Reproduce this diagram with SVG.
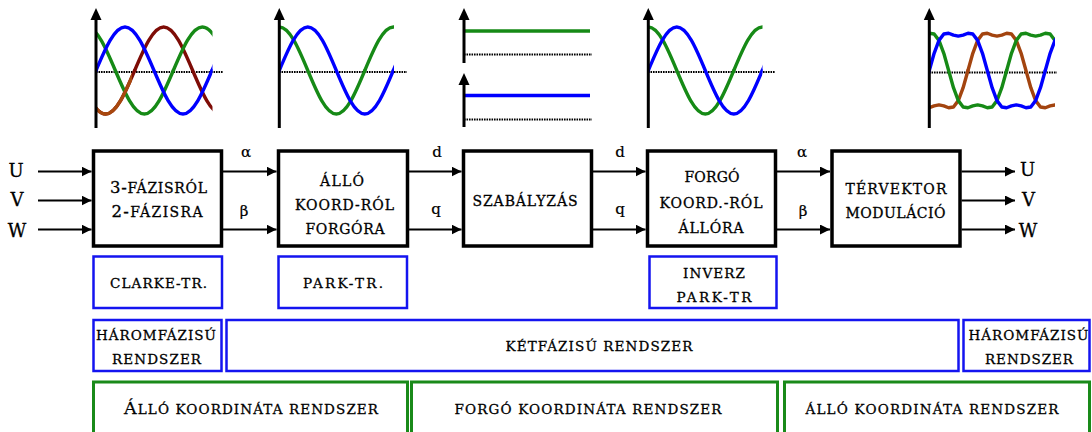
<svg xmlns="http://www.w3.org/2000/svg" width="1092" height="432" viewBox="0 0 1092 432">
<style>
text{font-family:"DejaVu Serif","Liberation Serif",serif;fill:#000;stroke:#000;stroke-width:0.3;text-anchor:middle}
.bt{font-size:14px}
.st{font-size:13.5px}
.gk{font-size:15px;stroke-width:0.2}
.io{font-size:18px}
.blk{fill:#fff;stroke:#000;stroke-width:3.5}
.bl{fill:none;stroke:#1414f0;stroke-width:2.5}
.gr{fill:none;stroke:#198a19;stroke-width:3}
.cn{stroke:#000;stroke-width:2;fill:none}
.ax{stroke:#000;stroke-width:3}
.zl{stroke:#000;stroke-width:2.2;stroke-dasharray:1.6 0.9}
.wv{fill:none;stroke-width:3.4;stroke-linecap:round;stroke-linejoin:round}
</style>
<defs>
<marker id="ah" markerUnits="userSpaceOnUse" viewBox="0 0 10 10" markerWidth="10" markerHeight="10" refX="10" refY="5" orient="auto">
<path d="M0,0 L10,5 L0,10 z" fill="#000"/>
</marker>
<path id="s1" d="M0,70.5 C9.46,48.21 18.5,27 29,27 C39.5,27 48.54,48.21 58,70.5 C67.46,92.79 76.5,114 87,114 C97.5,114 106.54,92.79 116,70.5"/>
<g id="s3"><use href="#s1" x="-116"/><use href="#s1"/><use href="#s1" x="116"/></g>
<path id="t1" d="M0,70.5 L4.83,53.29 L9.67,40.4 L14.5,34.01 L19.33,33.26 L24.17,35.05 L29,36.1 L33.83,35.05 L38.67,33.26 L43.5,34.01 L48.33,40.4 L53.17,53.29 L58,70.5 L62.83,87.71 L67.67,100.6 L72.5,106.99 L77.33,107.74 L82.17,105.95 L87,104.9 L91.83,105.95 L96.67,107.74 L101.5,106.99 L106.33,100.6 L111.17,87.71 L116,70.5"/>
<g id="t3"><use href="#t1" x="-116"/><use href="#t1"/><use href="#t1" x="116"/></g>
<clipPath id="c1"><rect x="96" y="0" width="116.5" height="140"/></clipPath>
<clipPath id="c1o"><rect x="96" y="0" width="36" height="140"/></clipPath>
<clipPath id="c2"><rect x="279" y="0" width="115" height="140"/></clipPath>
<clipPath id="c4"><rect x="648" y="0" width="114.5" height="140"/></clipPath>
<clipPath id="c5"><rect x="929" y="0" width="126" height="140"/></clipPath>
</defs>

<!-- waveform plots -->
<g id="plot1">
<line class="zl" x1="96" y1="72" x2="223" y2="72"/>
<g clip-path="url(#c1)">
<use href="#s3" class="wv" stroke="#7e0c06" transform="translate(134.67,0)"/>
<use href="#s3" class="wv" stroke="#168a16" transform="translate(57.33,0)"/>
<use href="#s3" class="wv" stroke="#0000ff" transform="translate(96,0)"/>
</g>
<g clip-path="url(#c1o)">
<use href="#s3" class="wv" stroke="#a8480e" transform="translate(134.67,0)"/>
</g>
<line class="ax" x1="96" y1="18" x2="96" y2="128"/>
<polygon points="96,8 90.5,20 101.5,20" fill="#000"/>
</g>

<g id="plot2">
<line class="zl" x1="279" y1="72" x2="407" y2="72"/>
<g clip-path="url(#c2)">
<use href="#s3" class="wv" stroke="#168a16" transform="translate(250.8,0) scale(0.9828,1)"/>
<use href="#s3" class="wv" stroke="#0000ff" transform="translate(279.3,0) scale(0.9828,1)"/>
</g>
<line class="ax" x1="279.3" y1="18" x2="279.3" y2="128"/>
<polygon points="279.3,8 273.8,20 284.8,20" fill="#000"/>
</g>

<g id="plot3">
<line class="zl" x1="464" y1="54.5" x2="592" y2="54.5"/>
<line class="zl" x1="464" y1="119.5" x2="592" y2="119.5"/>
<line x1="464" y1="31" x2="590" y2="31" stroke="#168a16" stroke-width="3.4"/>
<line x1="464" y1="95.5" x2="590" y2="95.5" stroke="#0000ff" stroke-width="3.4"/>
<line class="ax" x1="464" y1="18" x2="464" y2="63"/>
<polygon points="464,8 458.5,20 469.5,20" fill="#000"/>
<line class="ax" x1="464" y1="83" x2="464" y2="127"/>
<polygon points="464,73 458.5,85 469.5,85" fill="#000"/>
</g>

<g id="plot4">
<line class="zl" x1="648" y1="72" x2="775" y2="72"/>
<g clip-path="url(#c4)">
<use href="#s3" class="wv" stroke="#168a16" transform="translate(619.8,0) scale(0.9828,1)"/>
<use href="#s3" class="wv" stroke="#0000ff" transform="translate(648.3,0) scale(0.9828,1)"/>
</g>
<line class="ax" x1="648.3" y1="18" x2="648.3" y2="128"/>
<polygon points="648.3,8 642.8,20 653.8,20" fill="#000"/>
</g>

<g id="plot5">
<line class="zl" x1="929" y1="72.5" x2="1057" y2="72.5"/>
<g clip-path="url(#c5)">
<use href="#t3" class="wv" stroke="#a3440f" transform="translate(967.97,0)"/>
<use href="#t3" class="wv" stroke="#168a16" transform="translate(890.63,0)"/>
<use href="#t3" class="wv" stroke="#0000ff" transform="translate(929.3,0)"/>
</g>
<line class="ax" x1="929.3" y1="18" x2="929.3" y2="128"/>
<polygon points="929.3,8 923.8,20 934.8,20" fill="#000"/>
</g>

<!-- connectors -->
<g id="connectors">
<line class="cn" x1="38" y1="171.5" x2="91.5" y2="171.5" marker-end="url(#ah)"/>
<line class="cn" x1="38" y1="200.5" x2="91.5" y2="200.5" marker-end="url(#ah)"/>
<line class="cn" x1="38" y1="229.5" x2="91.5" y2="229.5" marker-end="url(#ah)"/>
<line class="cn" x1="223" y1="171.5" x2="276.5" y2="171.5" marker-end="url(#ah)"/>
<line class="cn" x1="223" y1="229.5" x2="276.5" y2="229.5" marker-end="url(#ah)"/>
<line class="cn" x1="409" y1="171.5" x2="461.5" y2="171.5" marker-end="url(#ah)"/>
<line class="cn" x1="409" y1="229.5" x2="461.5" y2="229.5" marker-end="url(#ah)"/>
<line class="cn" x1="593" y1="171.5" x2="645.5" y2="171.5" marker-end="url(#ah)"/>
<line class="cn" x1="593" y1="229.5" x2="645.5" y2="229.5" marker-end="url(#ah)"/>
<line class="cn" x1="777" y1="171.5" x2="830" y2="171.5" marker-end="url(#ah)"/>
<line class="cn" x1="777" y1="229.5" x2="830" y2="229.5" marker-end="url(#ah)"/>
<line class="cn" x1="961.5" y1="171.5" x2="1015" y2="171.5" marker-end="url(#ah)"/>
<line class="cn" x1="961.5" y1="200.5" x2="1015" y2="200.5" marker-end="url(#ah)"/>
<line class="cn" x1="961.5" y1="229.5" x2="1015" y2="229.5" marker-end="url(#ah)"/>
</g>

<!-- signal labels -->
<g id="labels">
<text class="io" x="16" y="177">U</text>
<text class="io" x="17" y="206">V</text>
<text class="io" x="17" y="236.5">W</text>
<text class="gk" x="246" y="157">α</text>
<text class="gk" x="244" y="216">β</text>
<text class="gk" x="437" y="157">d</text>
<text class="gk" x="436" y="214">q</text>
<text class="gk" x="620" y="157">d</text>
<text class="gk" x="620" y="214">q</text>
<text class="gk" x="802" y="157">α</text>
<text class="gk" x="803" y="216">β</text>
<text class="io" x="1027.5" y="176">U</text>
<text class="io" x="1028.5" y="205.5">V</text>
<text class="io" x="1028" y="237">W</text>
</g>

<!-- blocks -->
<g id="block-clarke">
<rect class="blk" x="93.5" y="151" width="128" height="95"/>
<text class="bt" x="158.5" y="193" textLength="97"><tspan font-size="16.5">3-</tspan>FÁZISRÓL</text>
<text class="bt" x="157" y="217" textLength="91"><tspan font-size="16.5">2-</tspan>FÁZISRA</text>
</g>
<g id="block-park">
<rect class="blk" x="278.5" y="151" width="129" height="95"/>
<text class="bt" x="342" y="186" textLength="44">ÁLLÓ</text>
<text class="bt" x="344.5" y="209.5" textLength="99">KOORD-RÓL</text>
<text class="bt" x="345" y="234" textLength="79">FORGÓRA</text>
</g>
<g id="block-control">
<rect class="blk" x="463.5" y="151" width="128" height="95"/>
<text class="bt" x="525" y="206" textLength="105">SZABÁLYZÁS</text>
</g>
<g id="block-invpark">
<rect class="blk" x="647.5" y="151" width="128" height="95"/>
<text class="bt" x="712" y="182" textLength="55">FORGÓ</text>
<text class="bt" x="711" y="208" textLength="103">KOORD.-RÓL</text>
<text class="bt" x="711" y="233" textLength="65">ÁLLÓRA</text>
</g>
<g id="block-svm">
<rect class="blk" x="832" y="151" width="128" height="95"/>
<text class="bt" x="896" y="194" textLength="101">TÉRVEKTOR</text>
<text class="bt" x="895.5" y="218" textLength="100">MODULÁCIÓ</text>
</g>

<!-- transform names -->
<g id="clarke-tr">
<rect class="bl" x="93.5" y="256.5" width="128.5" height="51.5"/>
<text class="st" x="158.5" y="288" textLength="97">CLARKE-TR.</text>
</g>
<g id="park-tr">
<rect class="bl" x="278.5" y="256.5" width="128.5" height="51.5"/>
<text class="st" x="343" y="288" textLength="80">PARK-TR.</text>
</g>
<g id="inverz-park-tr">
<rect class="bl" x="649.5" y="256.5" width="127" height="51.5"/>
<text class="st" x="714" y="277.5" textLength="62">INVERZ</text>
<text class="st" x="714" y="301.5" textLength="75">PARK-TR</text>
</g>

<!-- phase systems -->
<g id="sys-three-left">
<rect class="bl" x="93.5" y="320" width="128" height="51"/>
<text class="st" x="156" y="340" textLength="120">HÁROMFÁZISÚ</text>
<text class="st" x="156.5" y="364" textLength="89">RENDSZER</text>
</g>
<g id="sys-two">
<rect class="bl" x="226.5" y="320" width="732" height="51"/>
<text class="st" x="599" y="350.5" textLength="187">KÉTFÁZISÚ RENDSZER</text>
</g>
<g id="sys-three-right">
<rect class="bl" x="963.5" y="320" width="126" height="51"/>
<text class="st" x="1028.5" y="340" textLength="120">HÁROMFÁZISÚ</text>
<text class="st" x="1029" y="364" textLength="88">RENDSZER</text>
</g>

<!-- coordinate systems -->
<g id="coord-left">
<rect class="gr" x="93.5" y="382" width="314" height="70"/>
<text class="st" x="251" y="413.5" textLength="254"><tspan font-size="17.5">Á</tspan>LLÓ KOORDINÁTA RENDSZER</text>
</g>
<g id="coord-mid">
<rect class="gr" x="411.5" y="382" width="366" height="70"/>
<text class="st" x="588" y="413.5" textLength="267">FORGÓ KOORDINÁTA RENDSZER</text>
</g>
<g id="coord-right">
<rect class="gr" x="784.5" y="382" width="305" height="70"/>
<text class="st" x="932" y="413.5" textLength="253">ÁLLÓ KOORDINÁTA RENDSZER</text>
</g>
</svg>
